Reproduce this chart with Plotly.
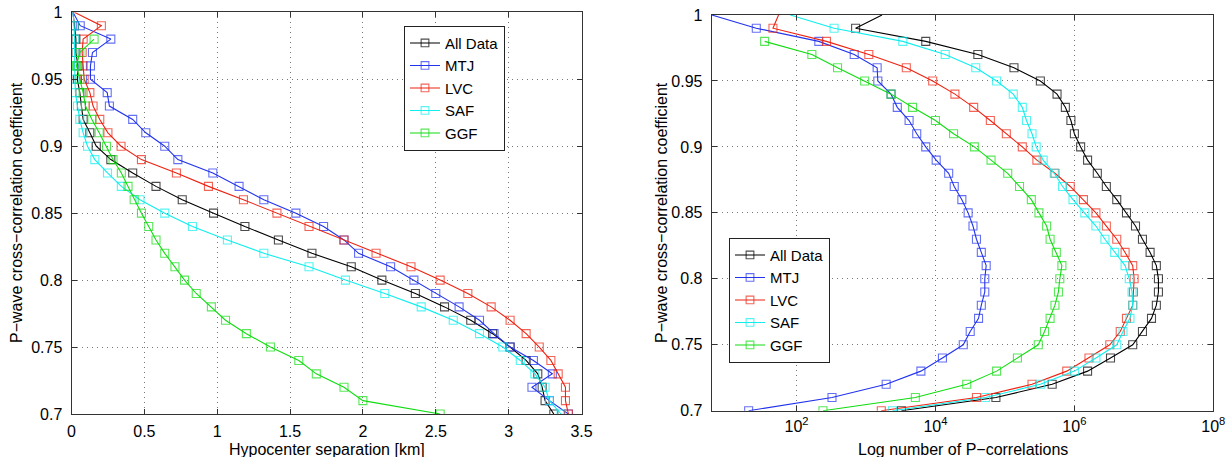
import plotly.graph_objects as go

# correlation-coefficient levels (y), from 1.00 down to 0.70
cc = [1.00, 0.99, 0.98, 0.97, 0.96, 0.95, 0.94, 0.93, 0.92, 0.91, 0.90,
      0.89, 0.88, 0.87, 0.86, 0.85, 0.84, 0.83, 0.82, 0.81, 0.80,
      0.79, 0.78, 0.77, 0.76, 0.75, 0.74, 0.73, 0.72, 0.71, 0.70]

series_names = ["All Data", "MTJ", "LVC", "SAF", "GGF"]

# Left panel: hypocenter separation [km]
sep_all = [0.01, 0.02, 0.03, 0.03, 0.045, 0.04, 0.057, 0.068, 0.08, 0.126, 0.17,
           0.27, 0.42, 0.58, 0.76, 0.975, 1.19, 1.42, 1.65, 1.92, 2.13,
           2.36, 2.56, 2.74, 2.89, 3.01, 3.12, 3.20, 3.23, 3.25, 3.31]
sep_mtj = [0.01, 0.06, 0.27, 0.144, 0.13, 0.13, 0.245, 0.26, 0.42, 0.51, 0.64,
           0.73, 0.97, 1.15, 1.32, 1.54, 1.73, 1.87, 1.97, 2.19, 2.35,
           2.50, 2.66, 2.80, 2.90, 3.01, 3.17, 3.30, 3.16, 3.28, 3.41]
sep_lvc = [0.02, 0.205, 0.08, 0.073, 0.08, 0.087, 0.126, 0.148, 0.194, 0.25, 0.34,
           0.48, 0.72, 0.94, 1.18, 1.41, 1.63, 1.87, 2.09, 2.33, 2.53,
           2.72, 2.88, 3.01, 3.12, 3.21, 3.29, 3.34, 3.39, 3.39, 3.41]
sep_saf = [0.01, 0.018, 0.02, 0.023, 0.023, 0.023, 0.027, 0.041, 0.057, 0.08, 0.11,
           0.16, 0.247, 0.342, 0.47, 0.64, 0.83, 1.07, 1.32, 1.63, 1.88,
           2.15, 2.40, 2.62, 2.80, 2.96, 3.08, 3.18, 3.25, 3.28, 3.36]
sep_ggf = [None, None, 0.155, 0.057, 0.034, 0.057, 0.08, 0.096, 0.14, 0.19, 0.24,
           0.285, 0.342, 0.388, 0.43, 0.48, 0.53, 0.58, 0.64, 0.71, 0.776,
           0.856, 0.96, 1.057, 1.20, 1.365, 1.56, 1.68, 1.87, 2.00, 2.53]

# Right panel: log10 of number of P-correlations
lognum_all = [3.23, 2.85, 3.86, 4.61, 5.13, 5.51, 5.75, 5.87, 5.95, 6.00, 6.09,
              6.19, 6.33, 6.46, 6.61, 6.75, 6.88, 6.98, 7.09, 7.18, 7.21,
              7.21, 7.18, 7.11, 6.98, 6.84, 6.52, 6.19, 5.68, 4.87, 3.51]
lognum_mtj = [0.78, 1.42, 2.32, 2.83, 3.16, 3.17, 3.36, 3.45, 3.62, 3.73, 3.86,
              4.01, 4.19, 4.27, 4.38, 4.47, 4.54, 4.59, 4.66, 4.73, 4.71,
              4.71, 4.66, 4.62, 4.50, 4.40, 4.10, 3.79, 3.29, 2.51, 1.31]
lognum_lvc = [1.74, 1.66, 2.43, 3.04, 3.58, 3.96, 4.28, 4.55, 4.79, 5.02, 5.25,
              5.46, 5.72, 5.94, 6.13, 6.31, 6.46, 6.61, 6.73, 6.84, 6.86,
              6.85, 6.84, 6.75, 6.66, 6.51, 6.21, 5.89, 5.39, 4.59, 3.22]
lognum_saf = [1.91, 2.54, 3.53, 4.14, 4.58, 4.88, 5.12, 5.25, 5.31, 5.39, 5.45,
              5.55, 5.71, 5.83, 5.98, 6.15, 6.31, 6.44, 6.58, 6.73, 6.79,
              6.83, 6.84, 6.80, 6.70, 6.61, 6.31, 6.00, 5.51, 4.72, 3.38]
lognum_ggf = [None, None, 1.54, 2.22, 2.59, 2.98, 3.36, 3.67, 4.00, 4.26, 4.56,
              4.80, 5.04, 5.21, 5.38, 5.49, 5.60, 5.65, 5.74, 5.82, 5.79,
              5.77, 5.72, 5.65, 5.57, 5.48, 5.18, 4.88, 4.45, 3.71, 2.38]

y_ticks = [0.7, 0.75, 0.8, 0.85, 0.9, 0.95, 1.0]
y_ticktext = ["0.7", "0.75", "0.8", "0.85", "0.9", "0.95", "1"]
x1_ticks = [0, 0.5, 1, 1.5, 2, 2.5, 3, 3.5]
x1_ticktext = ["0", "0.5", "1", "1.5", "2", "2.5", "3", "3.5"]
x2_ticks = [1e2, 1e4, 1e6, 1e8]
x2_ticktext = ["10<sup>2</sup>", "10<sup>4</sup>", "10<sup>6</sup>", "10<sup>8</sup>"]

colors = ["#000000", "#2233ee", "#ee2211", "#11eeee", "#11dd11"]

FONT = "Liberation Sans, Arial, Helvetica, sans-serif"

left_series = [sep_all, sep_mtj, sep_lvc, sep_saf, sep_ggf]
right_series = [lognum_all, lognum_mtj, lognum_lvc, lognum_saf, lognum_ggf]

# no marker drawn at the 1.00 level
marker_sizes = [0] + [8] * (len(cc) - 1)

fig = go.Figure()
for name, vals, col in zip(series_names, left_series, colors):
    fig.add_trace(go.Scatter(
        x=vals, y=cc, name=name, mode="lines+markers",
        line=dict(color=col, width=1.1),
        marker=dict(symbol="square-open", size=marker_sizes, color=col,
                    line=dict(width=1.1, color=col)),
        xaxis="x", yaxis="y", legend="legend", connectgaps=False,
    ))
for name, vals, col in zip(series_names, right_series, colors):
    xs = [None if v is None else 10 ** v for v in vals]
    fig.add_trace(go.Scatter(
        x=xs, y=cc, name=name, mode="lines+markers",
        line=dict(color=col, width=1.1),
        marker=dict(symbol="square-open", size=marker_sizes, color=col,
                    line=dict(width=1.1, color=col)),
        xaxis="x2", yaxis="y2", legend="legend2", connectgaps=False,
    ))

W, H = 1230, 457
ax_common = dict(
    showline=True, linecolor="#333333", linewidth=1, mirror="ticks",
    ticks="inside", ticklen=5, tickcolor="#333333", tickwidth=1,
    showgrid=True, gridcolor="#777777", griddash="1px,4px", gridwidth=1,
    zeroline=False, automargin=False,
    tickfont=dict(family=FONT, size=16, color="#000000"),
)

legend_common = dict(xanchor="left", yanchor="top",
                     bordercolor="#222222", borderwidth=1, bgcolor="white",
                     font=dict(family=FONT, size=15), tracegroupgap=0, itemwidth=30)

fig.update_layout(
    width=W, height=H, margin=dict(l=0, r=0, t=0, b=0, autoexpand=False),
    paper_bgcolor="white", plot_bgcolor="white",
    font=dict(family=FONT, size=16, color="#000000"),
    xaxis=dict(domain=[71.5 / W, 581.5 / W], range=[0, 3.5], anchor="y",
               tickvals=x1_ticks, ticktext=x1_ticktext, ticklabelstandoff=3, **ax_common),
    yaxis=dict(domain=[1 - 414 / H, 1 - 12.3 / H], range=[0.7, 1.0], anchor="x",
               tickvals=y_ticks, ticktext=y_ticktext, ticklabelstandoff=5, **ax_common),
    xaxis2=dict(domain=[711.7 / W, 1213.3 / W], type="log", range=[0.778, 8], anchor="y2",
                tickvals=x2_ticks, ticktext=x2_ticktext, ticklabelstandoff=1, **ax_common),
    yaxis2=dict(domain=[1 - 410.7 / H, 1 - 15 / H], range=[0.7, 1.0], anchor="x2",
                tickvals=y_ticks, ticktext=y_ticktext, ticklabelstandoff=5, **ax_common),
    legend=dict(x=404 / W, y=1 - 25.7 / H, **legend_common),
    legend2=dict(x=729 / W, y=1 - 237.7 / H, **legend_common),
    showlegend=True,
    annotations=[
        dict(text="Hypocenter separation [km]", x=(71.5 + 581.5) / 2 / W, y=1 - 449 / H,
             xref="paper", yref="paper", showarrow=False, font=dict(size=16),
             xanchor="center", yanchor="middle"),
        dict(text="Log number of P\u2212correlations", x=(711.7 + 1213.3) / 2 / W, y=1 - 449 / H,
             xref="paper", yref="paper", showarrow=False, font=dict(size=16),
             xanchor="center", yanchor="middle"),
        dict(text="P\u2212wave cross\u2212correlation coefficient", x=16 / W, y=1 - 213 / H,
             xref="paper", yref="paper", showarrow=False, font=dict(size=16),
             textangle=-90, xanchor="center", yanchor="middle"),
        dict(text="P\u2212wave cross\u2212correlation coefficient", x=661 / W, y=1 - 213 / H,
             xref="paper", yref="paper", showarrow=False, font=dict(size=16),
             textangle=-90, xanchor="center", yanchor="middle"),
    ],
)

fig.write_html("out.html", config={"displayModeBar": False},
               post_script="document.body.style.margin='0';")
